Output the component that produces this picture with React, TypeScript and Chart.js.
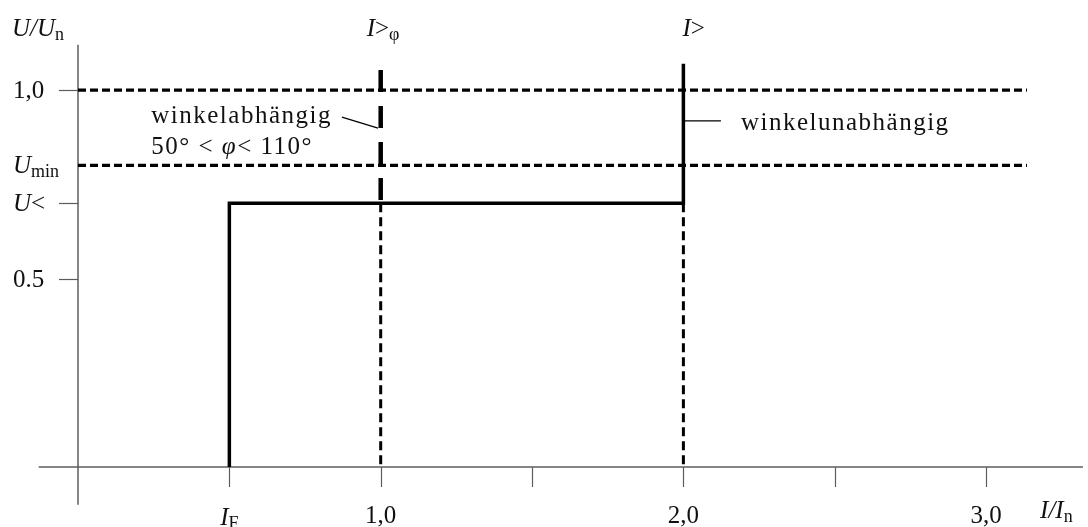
import { useEffect, useRef } from 'react';
import { Chart, registerables } from 'chart.js';

Chart.register(...registerables);

// Thresholds of the protection characteristic (per-unit)
const I_F = 0.5;
const I_PHI = 1.0;
const I_HIGH = 2.0;
const U_LOW = 0.7;
const U_MIN = 0.8;
const U_NOM = 1.0;

// Visible value ranges
const X_RANGE = [-0.13, 3.32];
const Y_RANGE = [-0.1, 1.12];

// Solid tripping characteristic (I_F up to U<, across to I>, up past 1,0)
const tripX = [I_F, I_F, I_HIGH, I_HIGH];
const tripY = [0, U_LOW, U_LOW, 1.07];

// Angle-dependent stage I>φ above U<
const phiUpperY = [1.053, U_LOW];

// Extent of the dashed voltage reference lines
const refLineX = [0, 3.135];

// Leader lines for the two notes
const leaderPhiX = [0.872, 0.991];
const leaderPhiY = [0.928, 0.899];
const leaderHighX = [I_HIGH, 2.124];
const leaderHighY = [0.918, 0.918];

type Part = [string, '' | 'i' | 'sub'];

const xTicks = [0.5, 1.0, 1.5, 2.0, 2.5, 3.0];
const xTickLabels: Part[][] = [
  [['I', 'i'], ['F', 'sub']],
  [['1,0', '']],
  [],
  [['2,0', '']],
  [],
  [['3,0', '']],
];

const yTicks = [U_NOM, U_MIN, U_LOW, 0.5];
const yTickMarks = [true, false, true, true];
const yTickLabels: Part[][] = [
  [['1,0', '']],
  [['U', 'i'], ['min', 'sub']],
  [['U', 'i'], ['<', '']],
  [['0.5', '']],
];

const yTitle: Part[] = [['U/U', 'i'], ['n', 'sub']];
const xTitle: Part[] = [['I/I', 'i'], ['n', 'sub']];
const phiStageLabel: Part[] = [['I', 'i'], ['>', ''], ['φ', 'sub']];
const highStageLabel: Part[] = [['I', 'i'], ['>', '']];

const notePhiLine1: Part[] = [['winkelabhängig', '']];
const notePhiLine2: Part[] = [['50° < ', ''], ['φ', 'i'], ['< 110°', '']];
const noteHigh: Part[] = [['winkelunabhängig', '']];

const FAMILY = '"Liberation Serif", "Times New Roman", serif';
const MAIN_SIZE = 25;
const SUB_SIZE = 18;
const SUB_SHIFT = 4;
const NOTE_SPACING = 1.5;
const X_LABEL_DROP = [2, 0, 0, 0, 0, 0];
const AXIS_GRAY = '#5c5c5c';
const INK = '#111111';

function fontFor(style: Part[1]) {
  if (style === 'i') return `italic ${MAIN_SIZE}px ${FAMILY}`;
  if (style === 'sub') return `${SUB_SIZE}px ${FAMILY}`;
  return `${MAIN_SIZE}px ${FAMILY}`;
}

function drawParts(
  ctx: CanvasRenderingContext2D,
  parts: Part[],
  x: number,
  y: number,
  align: 'left' | 'center' | 'right',
  spacing = 0
) {
  (ctx as any).letterSpacing = `${spacing}px`;
  const widths = parts.map(([t, s]) => {
    ctx.font = fontFor(s);
    return ctx.measureText(t).width;
  });
  const total = widths.reduce((a, b) => a + b, 0);
  let cx = align === 'left' ? x : align === 'center' ? x - total / 2 : x - total;
  ctx.textAlign = 'left';
  ctx.textBaseline = 'alphabetic';
  parts.forEach(([t, s], i) => {
    ctx.font = fontFor(s);
    ctx.fillText(t, cx, y + (s === 'sub' ? SUB_SHIFT : 0));
    cx += widths[i];
  });
  (ctx as any).letterSpacing = '0px';
}

const pts = (xs: number[], ys: number[]) => xs.map((x, i) => ({ x, y: ys[i] }));

const labelsPlugin = {
  id: 'characteristicLabels',
  afterDraw(chart: any) {
    const { ctx } = chart;
    const sx = chart.scales.x;
    const sy = chart.scales.y;
    const x0 = sx.getPixelForValue(0);
    const y0 = sy.getPixelForValue(0);
    ctx.save();

    // Tick marks
    ctx.strokeStyle = AXIS_GRAY;
    ctx.lineWidth = 1.2;
    xTicks.forEach((v) => {
      const px = Math.round(sx.getPixelForValue(v)) + 0.5;
      ctx.beginPath();
      ctx.moveTo(px, y0);
      ctx.lineTo(px, y0 + 20);
      ctx.stroke();
    });
    yTicks.forEach((v, i) => {
      if (!yTickMarks[i]) return;
      const py = Math.round(sy.getPixelForValue(v)) + 0.5;
      ctx.beginPath();
      ctx.moveTo(x0 - 19, py);
      ctx.lineTo(x0, py);
      ctx.stroke();
    });

    ctx.fillStyle = INK;

    // Tick labels
    xTicks.forEach((v, i) => {
      if (!xTickLabels[i].length) return;
      drawParts(ctx, xTickLabels[i], sx.getPixelForValue(v), y0 + 56 + X_LABEL_DROP[i], 'center');
    });
    yTicks.forEach((v, i) => {
      drawParts(ctx, yTickLabels[i], x0 - 65, sy.getPixelForValue(v) + 8, 'left');
    });

    // Axis titles and stage names
    const top = sy.getPixelForValue(Y_RANGE[1]);
    drawParts(ctx, yTitle, x0 - 66, top - 9, 'left');
    drawParts(ctx, xTitle, sx.getPixelForValue(3.0) + 54, y0 + 51, 'left');
    drawParts(ctx, phiStageLabel, sx.getPixelForValue(I_PHI) - 14, top - 9, 'left');
    drawParts(ctx, highStageLabel, sx.getPixelForValue(I_HIGH) - 1, top - 9, 'left');

    // Notes beside the leader lines
    const l1x = sx.getPixelForValue(leaderPhiX[0]);
    const l1y = sy.getPixelForValue(leaderPhiY[0]);
    ctx.font = fontFor('');
    (ctx as any).letterSpacing = `${NOTE_SPACING}px`;
    const w1 = ctx.measureText(notePhiLine1[0][0]).width;
    (ctx as any).letterSpacing = '0px';
    const noteLeft = l1x - 10 - w1;
    drawParts(ctx, notePhiLine1, noteLeft, l1y + 6, 'left', NOTE_SPACING);
    drawParts(ctx, notePhiLine2, noteLeft, l1y + 37, 'left', NOTE_SPACING);

    const l2x = sx.getPixelForValue(leaderHighX[1]);
    const l2y = sy.getPixelForValue(leaderHighY[1]);
    drawParts(ctx, noteHigh, l2x + 20, l2y + 9, 'left', NOTE_SPACING);

    ctx.restore();
  },
};

export default function App() {
  const canvasRef = useRef<HTMLCanvasElement | null>(null);

  useEffect(() => {
    if (!canvasRef.current) return;
    const black = '#000000';
    const line = (data: any[], extra: any) => ({
      data,
      showLine: true,
      pointRadius: 0,
      borderColor: black,
      backgroundColor: black,
      fill: false,
      tension: 0,
      clip: false,
      ...extra,
    });

    const chart = new Chart(canvasRef.current, {
      type: 'scatter',
      data: {
        datasets: [
          line(pts(tripX, tripY), { borderWidth: 3.5, borderJoinStyle: 'miter' }),
          line(pts([I_PHI, I_PHI], phiUpperY), { borderWidth: 4.5, borderDash: [22, 14] }),
          line(pts([I_PHI, I_PHI], [U_LOW, 0]), { borderWidth: 3, borderDash: [9, 5] }),
          line(pts([I_HIGH, I_HIGH], [U_LOW, 0]), { borderWidth: 3, borderDash: [9, 5] }),
          line(pts(refLineX, [U_NOM, U_NOM]), { borderWidth: 3.2, borderDash: [8, 4] }),
          line(pts(refLineX, [U_MIN, U_MIN]), { borderWidth: 3.2, borderDash: [8, 4] }),
          line(pts(leaderPhiX, leaderPhiY), { borderWidth: 1.2 }),
          line(pts(leaderHighX, leaderHighY), { borderWidth: 1.2 }),
          line(pts([0, 0], Y_RANGE), { borderWidth: 1.5, borderColor: AXIS_GRAY }),
          line(pts(X_RANGE, [0, 0]), { borderWidth: 1.5, borderColor: AXIS_GRAY }),
        ],
      },
      options: {
        animation: false,
        responsive: true,
        maintainAspectRatio: false,
        layout: { padding: { left: 38.65, right: 5.05, top: 44.8, bottom: 22.3 } },
        plugins: { legend: { display: false }, tooltip: { enabled: false } },
        events: [],
        scales: {
          x: { type: 'linear', min: X_RANGE[0], max: X_RANGE[1], display: false },
          y: { type: 'linear', min: Y_RANGE[0], max: Y_RANGE[1], display: false },
        },
      },
      plugins: [labelsPlugin],
    });
    return () => chart.destroy();
  }, []);

  return (
    <div style={{ position: 'absolute', left: 0, top: 0, width: 1088, height: 527, background: '#fff' }}>
      <canvas ref={canvasRef} />
    </div>
  );
}
